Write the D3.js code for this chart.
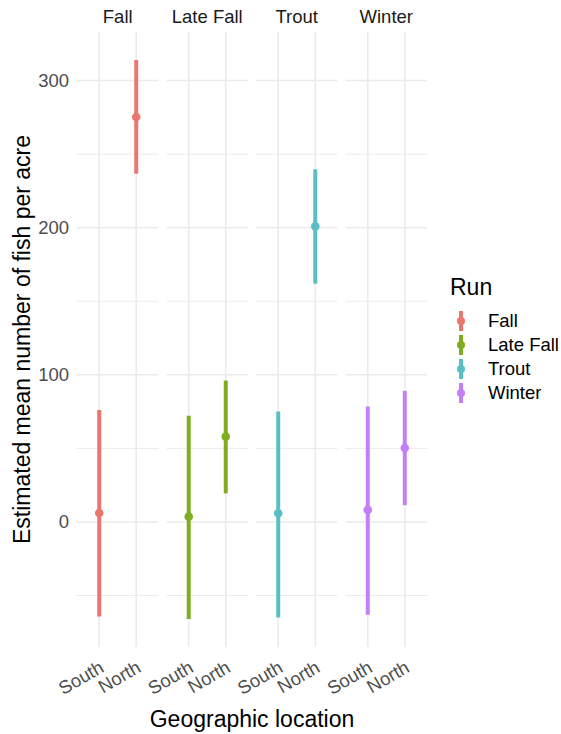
<!DOCTYPE html>
<html lang="en">
<head>
    <meta charset="UTF-8">
    <title>Fish per acre by run</title>
    <script src="https://cdn.jsdelivr.net/npm/d3@7/dist/d3.min.js"></script>
    <style>
        body {
            margin: 0;
            padding: 0;
            background: #fff;
        }

        text {
            font-family: "Liberation Sans", Arial, Helvetica, sans-serif;
        }
    </style>
</head>
<body>
<svg width="561" height="734" id="mainsvg"></svg>
<script>
    // values
    const runs = ["Fall", "Late Fall", "Trout", "Winter"];
    const locations = ["South", "North"];
    const estSouth = [6.1, 3.6, 5.9, 8.2];
    const lowSouth = [-64.3, -66, -65, -63];
    const highSouth = [76, 72.1, 75, 78.4];
    const estNorth = [275.2, 58, 200.9, 50.2];
    const lowNorth = [236.7, 19.4, 162, 11.4];
    const highNorth = [314, 96.1, 239.7, 89.1];
    const yTicks = [0, 100, 200, 300];
    const yMinor = [-50, 50, 150, 250];
    const runColors = ["#EB7670", "#80AD1F", "#5ABFC5", "#C47EF8"];

    let rows = [];
    for (let i = 0; i < runs.length; ++i) {
        rows.push({run: runs[i], loc: "South", est: estSouth[i], lo: lowSouth[i], hi: highSouth[i], color: runColors[i]});
        rows.push({run: runs[i], loc: "North", est: estNorth[i], lo: lowNorth[i], hi: highNorth[i], color: runColors[i]});
    }

    const svg = d3.select("#mainsvg");
    const plotTop = 32, plotBottom = 647, plotLeft = 77, plotRight = 427;

    const facet = d3.scaleBand().domain(runs).range([plotLeft, plotRight]).paddingInner(0.09).paddingOuter(0);
    const x = d3.scalePoint().domain(locations).range([0, facet.bandwidth()]).padding(0.6);
    const y = d3.scaleLinear().domain([-85, 333]).range([plotBottom, plotTop]);

    // panels
    runs.forEach((run) => {
        let g = svg.append("g").attr("transform", "translate(" + facet(run) + ",0)");
        g.selectAll(".minor").data(yMinor).enter().append("line")
            .attr("x1", 0).attr("x2", facet.bandwidth())
            .attr("y1", (d) => y(d)).attr("y2", (d) => y(d))
            .attr("stroke", "#EBEBEB").attr("stroke-width", 1);
        g.selectAll(".major").data(yTicks).enter().append("line")
            .attr("x1", 0).attr("x2", facet.bandwidth())
            .attr("y1", (d) => y(d)).attr("y2", (d) => y(d))
            .attr("stroke", "#EBEBEB").attr("stroke-width", 1.6);
        g.selectAll(".vgrid").data(locations).enter().append("line")
            .attr("x1", (d) => x(d)).attr("x2", (d) => x(d))
            .attr("y1", plotTop).attr("y2", plotBottom)
            .attr("stroke", "#EBEBEB").attr("stroke-width", 1.6);

        // strip label
        g.append("text")
            .attr("x", facet.bandwidth() / 2).attr("y", 23)
            .attr("text-anchor", "middle")
            .attr("font-size", "18.5px").attr("fill", "#1A1A1A")
            .text(run);

        // x tick labels
        locations.forEach((loc) => {
            g.append("text")
                .attr("transform", "translate(" + (x(loc) + 6) + ",671) rotate(-30)")
                .attr("text-anchor", "end")
                .attr("font-size", "18.5px").attr("fill", "#4D4D4D")
                .text(loc);
        });

        let sub = rows.filter((d) => d.run === run);
        g.selectAll(".range").data(sub).enter().append("line")
            .attr("x1", (d) => x(d.loc)).attr("x2", (d) => x(d.loc))
            .attr("y1", (d) => y(d.lo)).attr("y2", (d) => y(d.hi))
            .attr("stroke", (d) => d.color).attr("stroke-width", 4);
        g.selectAll(".pt").data(sub).enter().append("circle")
            .attr("cx", (d) => x(d.loc)).attr("cy", (d) => y(d.est))
            .attr("r", 4.3)
            .attr("fill", (d) => d.color);
    });

    // y tick labels
    svg.selectAll(".ytick").data(yTicks).enter().append("text")
        .attr("x", 69).attr("y", (d) => y(d))
        .attr("dy", "0.35em")
        .attr("text-anchor", "end")
        .attr("font-size", "18.5px").attr("fill", "#4D4D4D")
        .text((d) => d);

    // axis titles
    svg.append("text")
        .attr("transform", "translate(30," + ((plotTop + plotBottom) / 2) + ") rotate(-90)")
        .attr("text-anchor", "middle")
        .attr("font-size", "23px").attr("fill", "#000")
        .text("Estimated mean number of fish per acre");
    svg.append("text")
        .attr("x", (plotLeft + plotRight) / 2).attr("y", 727)
        .attr("text-anchor", "middle")
        .attr("font-size", "23px").attr("fill", "#000")
        .text("Geographic location");

    // legend
    const legend = svg.append("g");
    legend.append("text")
        .attr("x", 450).attr("y", 295)
        .attr("font-size", "23px").attr("fill", "#000")
        .text("Run");
    const ly = d3.scalePoint().domain(runs).range([321, 393]);
    runs.forEach((run, i) => {
        legend.append("line")
            .attr("x1", 461).attr("x2", 461)
            .attr("y1", ly(run) - 10).attr("y2", ly(run) + 10)
            .attr("stroke", runColors[i]).attr("stroke-width", 4);
        legend.append("circle")
            .attr("cx", 461).attr("cy", ly(run)).attr("r", 4)
            .attr("fill", runColors[i]);
        legend.append("text")
            .attr("x", 488).attr("y", ly(run))
            .attr("dy", "0.35em")
            .attr("font-size", "18.5px").attr("fill", "#000")
            .text(run);
    });
</script>
</body>
</html>
